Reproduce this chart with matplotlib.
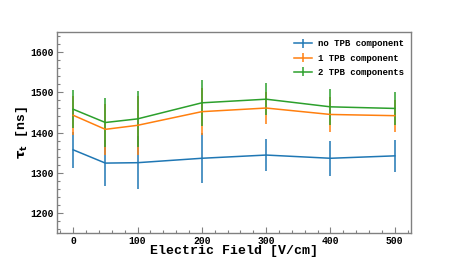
import matplotlib
matplotlib.use("Agg")
import matplotlib.pyplot as plt
from matplotlib.ticker import MultipleLocator

plt.rcParams['font.family'] = ['Liberation Mono', 'DejaVu Sans Mono']
plt.rcParams['font.weight'] = 'bold'

field = [0, 50, 100, 200, 300, 400, 500]

tau_none = [1357, 1324, 1325, 1336, 1344, 1336, 1342]
err_none = [45, 57, 66, 62, 40, 43, 39]

tau_one = [1443, 1408, 1418, 1452, 1461, 1445, 1442]
err_one = [49, 63, 73, 58, 40, 44, 40]

tau_two = [1458, 1425, 1434, 1474, 1483, 1464, 1460]
err_two = [47, 60, 69, 58, 40, 45, 41]

labels = ["no TPB component", "1 TPB component", "2 TPB components"]

fig = plt.figure(figsize=(4.57, 2.63), dpi=100)
ax = fig.add_axes([0.125, 0.114, 0.774, 0.764])

ax.errorbar(field, tau_none, yerr=err_none, color='#1f77b4', lw=1.1, elinewidth=1.1, label=labels[0])
ax.errorbar(field, tau_one, yerr=err_one, color='#ff7f0e', lw=1.1, elinewidth=1.1, label=labels[1])
ax.errorbar(field, tau_two, yerr=err_two, color='#2ca02c', lw=1.1, elinewidth=1.1, label=labels[2])

ax.set_xlim(-25, 525)
ax.set_ylim(1150, 1650)
ax.xaxis.set_major_locator(MultipleLocator(100))
ax.xaxis.set_minor_locator(MultipleLocator(20))
ax.yaxis.set_major_locator(MultipleLocator(100))
ax.yaxis.set_minor_locator(MultipleLocator(20))
ax.tick_params(which='both', direction='in', colors='#808080', labelcolor='black', labelsize=7)
ax.tick_params(which='major', length=4, width=0.8, pad=2.5)
ax.tick_params(which='minor', length=2, width=0.8)
for s in ax.spines.values():
    s.set_color('#808080')
    s.set_linewidth(1.0)

ax.set_xlabel("Electric Field [V/cm]", fontsize=9.5, fontweight='bold', labelpad=-1)
ax.set_ylabel(r"$\mathbf{\tau_t}$ [ns]", fontsize=9.5, fontweight='bold', labelpad=0)

ax.legend(loc='upper right', frameon=False, fontsize=6.5, handlelength=2.0,
          handletextpad=0.6, labelspacing=0.6, borderaxespad=0.4)

plt.savefig('out.png', dpi=100)
plt.close(fig)
